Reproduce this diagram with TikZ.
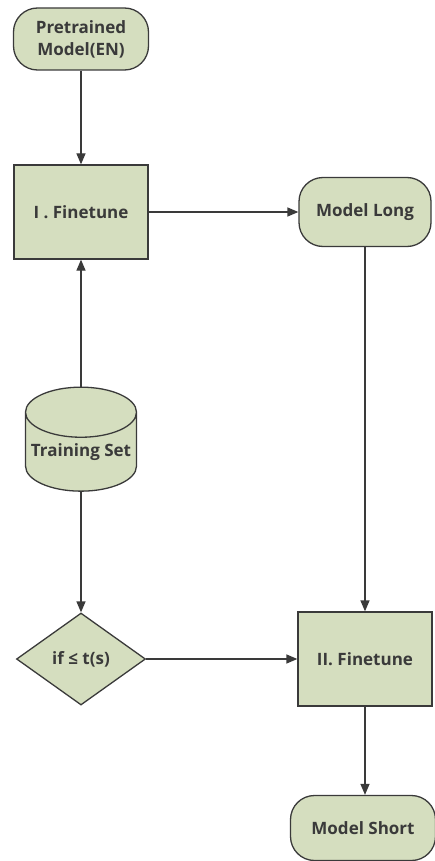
\documentclass[tikz,border=0pt]{standalone}
\usepackage{fontspec}
\setmainfont{Open Sans}
\usetikzlibrary{shapes.geometric,arrows.meta,positioning}
\definecolor{boxfill}{HTML}{D5DEBF}
\definecolor{boxline}{HTML}{3A3A3A}

\begin{document}
\begin{tikzpicture}[x=1pt,y=-1pt,
  every node/.style={font=\bfseries\fontsize{17}{22}\selectfont, text=boxline, inner sep=0pt},
  terminal/.style={rectangle, draw=boxline, fill=boxfill, line width=1.3pt, rounded corners=24pt, align=center},
  process/.style={rectangle, draw=boxline, fill=boxfill, line width=1.3pt},
  flow/.style={draw=boxline, line width=1.3pt, -{Triangle[length=11pt,width=9pt]}}]
\useasboundingbox (0,0) rectangle (434,861);

\node[terminal, minimum width=135pt, minimum height=62pt] (pretrained) at (81,39) {Pretrained\\Model(EN)};
\node[process, minimum width=134pt, minimum height=94pt] (fineone) at (81,212) {I . Finetune};
\node[terminal, minimum width=132pt, minimum height=69pt] (modellong) at (365,212) {Model Long};
\node[cylinder, shape border rotate=90, aspect=0.5, draw=boxline, fill=boxfill, line width=1.3pt,
      minimum width=111pt, minimum height=104pt] (trainset) at (81,452) {Training Set};
\node[diamond, draw=boxline, fill=boxfill, line width=1.3pt, minimum width=129pt, minimum height=92pt] (cond) at (81,659) {if ≤ t(s)};
\node[process, minimum width=134pt, minimum height=94pt] (finetwo) at (365,659) {II. Finetune};
\node[terminal, minimum width=145pt, minimum height=65pt] (modelshort) at (363,828) {Model Short};

\draw[flow] (pretrained) -- (fineone);
\draw[flow] (fineone) -- (modellong);
\draw[flow] (trainset.north -| fineone.south) -- (fineone.south);
\draw[flow] (trainset.south -| cond.north) -- (cond.north);
\draw[flow] (cond) -- (finetwo);
\draw[flow] (modellong.south -| finetwo.north) -- (finetwo);
\draw[flow] (finetwo) -- (modelshort.north -| finetwo.south);
\end{tikzpicture}
\end{document}
